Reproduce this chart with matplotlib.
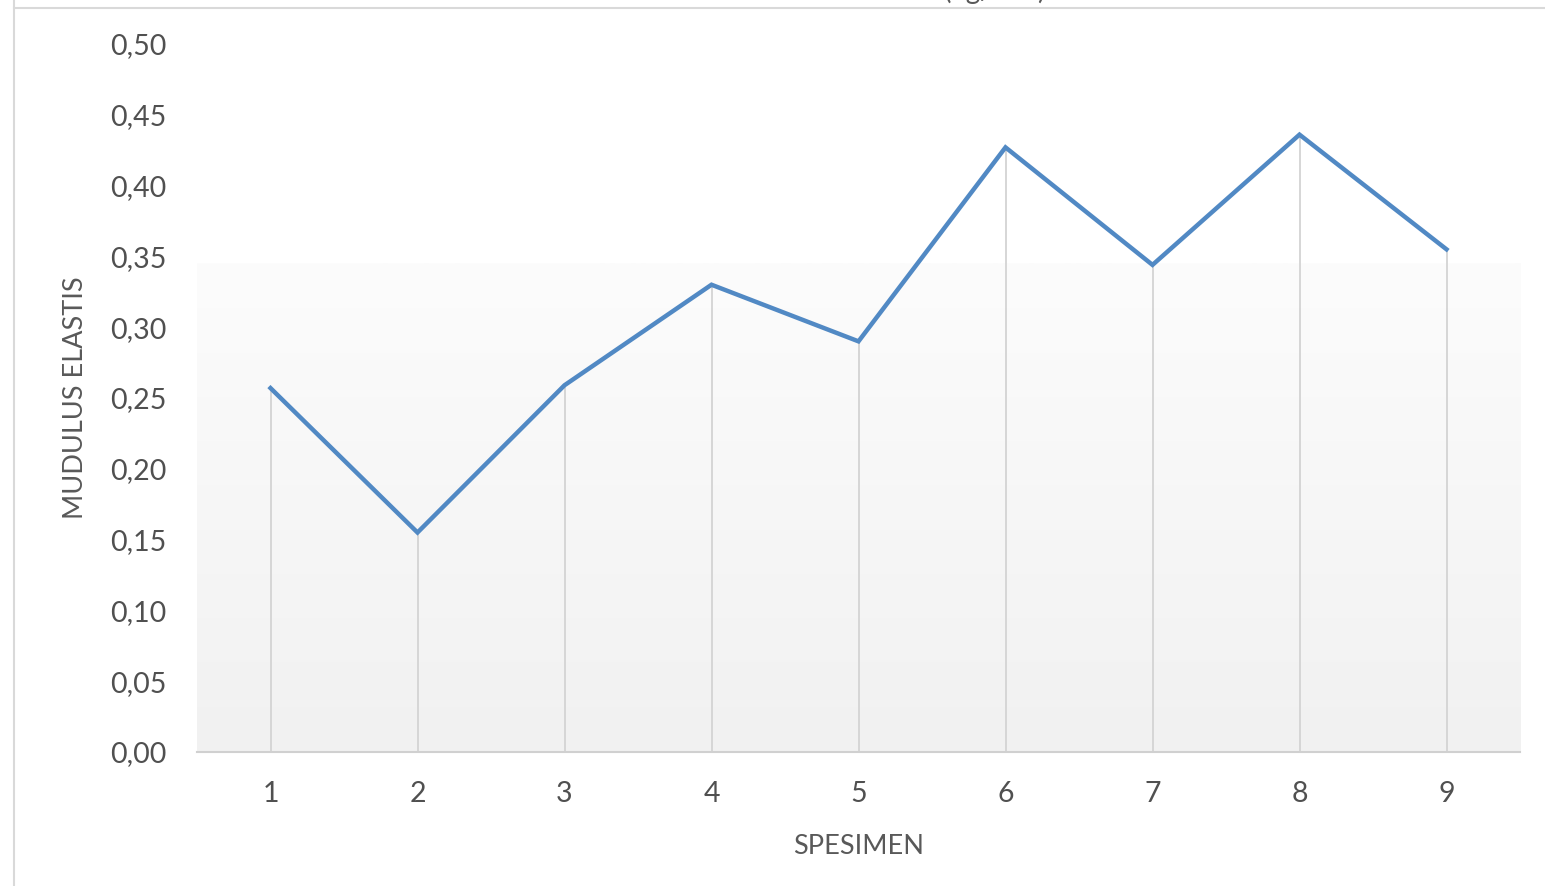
import matplotlib
matplotlib.use("Agg")
import matplotlib.pyplot as plt
import numpy as np
from matplotlib.ticker import FuncFormatter
from matplotlib.lines import Line2D

# data
spesimen = [1, 2, 3, 4, 5, 6, 7, 8, 9]
modulus = [0.257, 0.155, 0.259, 0.330, 0.290, 0.427, 0.344, 0.436, 0.355]
y_ticks = [0.00, 0.05, 0.10, 0.15, 0.20, 0.25, 0.30, 0.35, 0.40, 0.45, 0.50]

plt.rcParams['font.family'] = ['Lato', 'DejaVu Sans']
text_color = '#595959'

fig = plt.figure(figsize=(15.45, 8.86), dpi=100)
ax = fig.add_axes([197 / 1545, 1 - 752 / 886, 1323 / 1545, 708 / 886])

# faint gradient in the lower part of the plot area
grad = np.linspace(0, 1, 256).reshape(-1, 1)
ax.imshow(grad, cmap=matplotlib.colors.LinearSegmentedColormap.from_list(
    'g', ['#f1f1f1', '#fcfcfc']), origin='lower', aspect='auto',
    extent=(0.5, 9.5, 0, 0.345), zorder=0)

# drop lines and series
ax.vlines(spesimen, 0, modulus, color='#d6d6d6', lw=1.4, zorder=1)
ax.plot(spesimen, modulus, color='#5189c4', lw=3.2, solid_joinstyle='miter', zorder=3)

ax.set_xlim(0.5, 9.5)
ax.set_ylim(0, 0.5)
ax.set_xticks(spesimen)
ax.set_yticks(y_ticks)
ax.yaxis.set_major_formatter(FuncFormatter(lambda v, p: f'{v:.2f}'.replace('.', ',')))
ax.tick_params(axis='both', length=0, labelsize=20.5, labelcolor='#505050')
ax.tick_params(axis='y', pad=22)
ax.tick_params(axis='x', pad=21)

for side in ['top', 'right', 'left']:
    ax.spines[side].set_visible(False)
ax.spines['bottom'].set_color('#d0d0d0')
ax.spines['bottom'].set_linewidth(1.5)
ax.set_facecolor('none')

ax.set_xlabel('SPESIMEN', fontsize=19.5, color=text_color, labelpad=19)
ax.set_ylabel('MUDULUS ELASTIS', fontsize=19.5, color=text_color, labelpad=16)

# chart area border, cut off by the screenshot
fig.add_artist(Line2D([14 / 1545, 1], [1 - 8 / 886, 1 - 8 / 886], color='#d9d9d9', lw=1.5))
fig.add_artist(Line2D([14 / 1545, 14 / 1545], [0, 1], color='#d9d9d9', lw=1.5))
fig.text(1045 / 1545, 1 + 1 / 886, 'MODULUS ELASTIS (kg/cm²)', ha='right', va='baseline',
         fontsize=20, color=text_color)

fig.savefig('out.png', dpi=100)
